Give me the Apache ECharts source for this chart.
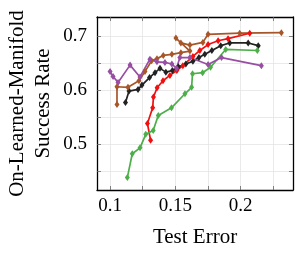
<!DOCTYPE html>
<html>
<head>
<meta charset="utf-8">
<script src="https://cdn.jsdelivr.net/npm/echarts@6/dist/echarts.min.js"></script>
<style>
  html, body { margin: 0; padding: 0; background: #fff; }
  #chart { width: 300px; height: 257px; }
</style>
</head>
<body>
<div id="chart"></div>
<script>
  // 数据 (读自图片)
  var blackX = [0.1118, 0.1145, 0.1214, 0.1244, 0.1302, 0.1344, 0.1382, 0.1427, 0.1477, 0.1523, 0.158, 0.1634, 0.168, 0.1725, 0.1779, 0.1847, 0.1916, 0.2057, 0.2134];
  var blackY = [0.577, 0.598, 0.601, 0.609, 0.623, 0.632, 0.640, 0.633, 0.636, 0.643, 0.648, 0.653, 0.660, 0.666, 0.673, 0.682, 0.687, 0.687, 0.682];

  var brownX = [0.1053, 0.1053, 0.1137, 0.1221, 0.1267, 0.1318, 0.1359, 0.1407, 0.1473, 0.1542, 0.1611, 0.1504, 0.1542, 0.1611, 0.171, 0.175, 0.1992, 0.2311];
  var brownY = [0.573, 0.606, 0.605, 0.617, 0.634, 0.654, 0.658, 0.664, 0.666, 0.669, 0.672, 0.696, 0.687, 0.683, 0.688, 0.703, 0.705, 0.706];

  var redX = [0.131, 0.1286, 0.1326, 0.1332, 0.136, 0.1405, 0.1458, 0.1511, 0.1557, 0.1634, 0.1687, 0.175, 0.1827, 0.1903, 0.2069];
  var redY = [0.507, 0.538, 0.567, 0.587, 0.604, 0.617, 0.627, 0.636, 0.645, 0.662, 0.673, 0.684, 0.691, 0.695, 0.705];

  var greenX = [0.1132, 0.117, 0.1229, 0.1273, 0.133, 0.1369, 0.147, 0.1573, 0.1624, 0.1631, 0.1708, 0.1769, 0.1885, 0.2127];
  var greenY = [0.438, 0.482, 0.493, 0.518, 0.525, 0.553, 0.567, 0.593, 0.605, 0.630, 0.632, 0.642, 0.675, 0.673];

  var purpleX = [0.1, 0.1023, 0.1061, 0.1153, 0.1229, 0.1305, 0.1359, 0.142, 0.1473, 0.1509, 0.1534, 0.1611, 0.175, 0.1853, 0.2158];
  var purpleY = [0.634, 0.625, 0.614, 0.646, 0.624, 0.657, 0.652, 0.651, 0.648, 0.640, 0.660, 0.660, 0.647, 0.660, 0.645];

  var xTicks = [0.1, 0.125, 0.15, 0.175, 0.2, 0.225];
  var xLabels = [0.1, 0.15, 0.2];
  var yTicks = [0.45, 0.5, 0.55, 0.6, 0.65, 0.7];
  var yLabels = [0.5, 0.6, 0.7];

  function pairs(xs, ys) {
    var out = [];
    for (var i = 0; i < xs.length; i++) out.push([xs[i], ys[i]]);
    return out;
  }

  var myChart = echarts.init(document.getElementById('chart'));
  var serif = 'Liberation Serif';

  // main = 带标签的轴, 另一侧的轴只画刻度和网格
  function xAx(pos, main) {
    return {
      type: 'value',
      position: pos,
      min: 0.09,
      max: 0.24,
      name: main ? 'Test Error' : '',
      nameLocation: 'middle',
      nameGap: 37,
      nameMoveOverlap: false,
      nameTextStyle: { fontFamily: serif, fontSize: 21, color: '#000' },
      axisLine: { show: true, onZero: false, lineStyle: { color: '#000', width: 1.3 } },
      axisTick: { show: true, inside: true, length: 4, customValues: xTicks, lineStyle: { color: '#666', width: 0.8 } },
      axisLabel: { show: true, customValues: main ? xLabels : xTicks, margin: 7, fontFamily: serif, fontSize: 19, color: '#000',
        formatter: function(v) { return main ? String(v) : ''; } },
      splitLine: { show: !main, lineStyle: { color: '#e4e4e4', width: 0.8 } }
    };
  }

  function yAx(pos, main) {
    return {
      type: 'value',
      position: pos,
      min: 0.415,
      max: 0.735,
      name: main ? 'On-Learned-Manifold\nSuccess Rate' : '',
      nameLocation: 'middle',
      nameGap: 41,
      nameMoveOverlap: false,
      nameTextStyle: { fontFamily: serif, fontSize: 21, color: '#000', lineHeight: 26 },
      axisLine: { show: true, onZero: false, lineStyle: { color: '#000', width: 1.3 } },
      axisTick: { show: true, inside: true, length: 4, customValues: yTicks, lineStyle: { color: '#666', width: 0.8 } },
      axisLabel: { show: true, customValues: main ? yLabels : yTicks, margin: 10, fontFamily: serif, fontSize: 19, color: '#000',
        formatter: function(v) { return main ? String(v) : ''; } },
      splitLine: { show: !main, lineStyle: { color: '#e4e4e4', width: 0.8 } }
    };
  }

  function line(name, color, xs, ys) {
    return {
      name: name,
      type: 'line',
      data: pairs(xs, ys),
      symbol: 'diamond',
      symbolSize: [5, 7],
      showSymbol: true,
      animation: false,
      lineStyle: { color: color, width: 1.7 },
      itemStyle: { color: color }
    };
  }

  option = {
    animation: false,
    grid: {
      left: 97,
      right: 7,
      top: 17,
      bottom: 67,
      containLabel: false,
      outerBoundsMode: 'none'
    },
    xAxis: [xAx('bottom', true), xAx('top', false)],
    yAxis: [yAx('left', true), yAx('right', false)],
    series: [
      line('black', '#222222', blackX, blackY),
      line('brown', '#a65628', brownX, brownY),
      line('red', '#f01010', redX, redY),
      line('green', '#4daf4a', greenX, greenY),
      line('purple', '#984ea3', purpleX, purpleY)
    ]
  };

  myChart.setOption(option);
</script>
</body>
</html>
